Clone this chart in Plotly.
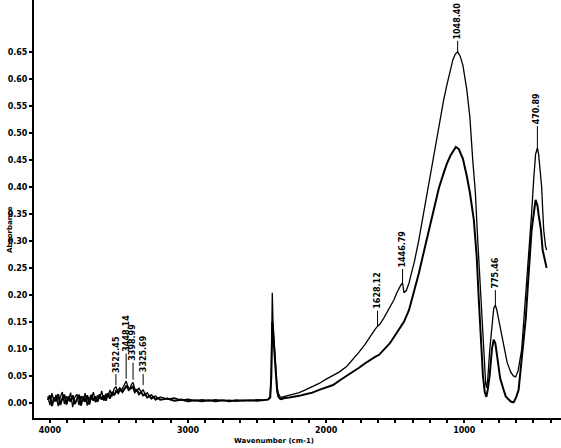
import plotly.graph_objects as go

# Upper spectrum (thin line)
upper_wn = [4015, 4000, 3985, 3970, 3955, 3940, 3925, 3910, 3895, 3880, 3865, 3850, 3835, 3820, 3805,
            3790, 3775, 3760, 3745, 3730, 3715, 3700, 3685, 3670, 3655, 3640, 3625, 3610, 3595, 3580,
            3565, 3550, 3535, 3522, 3510, 3495, 3480, 3465, 3448, 3435, 3420, 3410, 3398, 3385, 3370,
            3355, 3340, 3325, 3310, 3295, 3280, 3265, 3250, 3235, 3220, 3200, 3150, 3100, 3050, 3000,
            2950, 2900, 2850, 2800, 2750, 2700, 2650, 2600, 2550, 2500, 2450, 2420, 2405, 2397, 2390,
            2385, 2380, 2376, 2370, 2362, 2355, 2347, 2335, 2325, 2300, 2267, 2230, 2195, 2150, 2100,
            2051, 2000, 1950, 1906, 1850, 1800, 1762, 1720, 1680, 1646, 1628, 1610, 1581, 1560, 1540,
            1509, 1490, 1473, 1460, 1447, 1437, 1420, 1400, 1386, 1360, 1329, 1300, 1256, 1220, 1184,
            1150, 1126, 1100, 1083, 1065, 1048, 1030, 1010, 982, 960, 939, 920, 903, 890, 874,
            860, 852, 845, 838, 830, 816, 800, 787, 775, 765, 751, 730, 708, 690, 664,
            645, 628, 610, 585, 560, 534, 513, 498, 484, 471, 462, 455, 440, 433, 425, 412, 404]
upper_ab = [0.012, -0.004, 0.018, 0.002, 0.015, -0.006, 0.010, 0.020, -0.002, 0.012, 0.004, 0.019, -0.008, 0.010, 0.016,
            -0.004, 0.013, 0.003, 0.018, -0.005, 0.011, 0.006, 0.020, 0.001, 0.014, 0.008, 0.022, 0.004, 0.017, 0.010,
            0.024, 0.012, 0.026, 0.030, 0.022, 0.028, 0.024, 0.032, 0.040, 0.030, 0.026, 0.034, 0.038, 0.026, 0.022,
            0.027, 0.020, 0.024, 0.016, 0.019, 0.012, 0.015, 0.010, 0.013, 0.008, 0.011, 0.007, 0.009, 0.005, 0.007,
            0.004, 0.006, 0.004, 0.006, 0.004, 0.005, 0.003, 0.005, 0.004, 0.006, 0.005, 0.007, 0.012, 0.060, 0.204,
            0.150, 0.125, 0.117, 0.090, 0.055, 0.030, 0.018, 0.012, 0.010, 0.012, 0.014, 0.016, 0.019, 0.024, 0.030,
            0.036, 0.044, 0.051, 0.057, 0.068, 0.082, 0.094, 0.108, 0.124, 0.136, 0.142, 0.146, 0.158, 0.168, 0.178,
            0.191, 0.203, 0.212, 0.218, 0.222, 0.204, 0.208, 0.222, 0.237, 0.263, 0.302, 0.345, 0.404, 0.460, 0.515,
            0.560, 0.589, 0.617, 0.635, 0.646, 0.650, 0.642, 0.625, 0.580, 0.530, 0.450, 0.390, 0.302, 0.240, 0.172,
            0.110, 0.060, 0.035, 0.028, 0.045, 0.098, 0.150, 0.175, 0.181, 0.172, 0.154, 0.125, 0.098, 0.075, 0.057,
            0.050, 0.048, 0.060, 0.098, 0.180, 0.265, 0.350, 0.413, 0.460, 0.472, 0.460, 0.441, 0.400, 0.360, 0.320, 0.290, 0.283]

# Lower spectrum (thick line)
lower_wn = [4015, 4000, 3985, 3970, 3955, 3940, 3925, 3910, 3895, 3880, 3865, 3850, 3835, 3820, 3805,
            3790, 3775, 3760, 3745, 3730, 3715, 3700, 3685, 3670, 3655, 3640, 3625, 3610, 3595, 3580,
            3565, 3550, 3535, 3520, 3505, 3490, 3475, 3460, 3445, 3430, 3415, 3400, 3385, 3370, 3355,
            3340, 3325, 3310, 3295, 3280, 3265, 3250, 3235, 3220, 3200, 3150, 3100, 3050, 3000, 2950,
            2900, 2850, 2800, 2750, 2700, 2650, 2600, 2550, 2500, 2450, 2420, 2405, 2397, 2390, 2385,
            2380, 2376, 2370, 2362, 2355, 2347, 2335, 2325, 2300, 2267, 2230, 2195, 2150, 2100, 2051,
            2000, 1950, 1906, 1850, 1800, 1762, 1720, 1680, 1646, 1617, 1581, 1540, 1509, 1473, 1437,
            1400, 1386, 1360, 1329, 1300, 1270, 1240, 1210, 1184, 1150, 1126, 1100, 1083, 1061, 1040, 1010,
            982, 960, 931, 910, 895, 880, 865, 852, 840, 830, 816, 800, 787, 775, 758,
            740, 715, 700, 679, 660, 643, 625, 607, 585, 556, 534, 513, 484, 470, 462, 445, 433, 420, 412, 404]
lower_ab = [0.005, 0.014, -0.006, 0.010, 0.003, 0.016, -0.004, 0.008, 0.015, -0.003, 0.012, 0.002, 0.014, -0.002, 0.006,
            0.015, -0.005, 0.012, 0.002, 0.014, -0.003, 0.015, 0.004, 0.012, 0.002, 0.016, 0.006, 0.014, 0.004, 0.018,
            0.008, 0.020, 0.014, 0.022, 0.018, 0.025, 0.020, 0.027, 0.032, 0.024, 0.028, 0.030, 0.020, 0.024, 0.016,
            0.020, 0.014, 0.016, 0.010, 0.013, 0.008, 0.011, 0.006, 0.009, 0.006, 0.008, 0.004, 0.006, 0.003, 0.005,
            0.003, 0.005, 0.003, 0.005, 0.003, 0.005, 0.004, 0.005, 0.004, 0.006, 0.006, 0.010, 0.050, 0.150, 0.130,
            0.115, 0.105, 0.080, 0.045, 0.022, 0.012, 0.008, 0.007, 0.009, 0.010, 0.011, 0.013, 0.016, 0.019, 0.024,
            0.028, 0.033, 0.041, 0.050, 0.058, 0.065, 0.073, 0.080, 0.085, 0.089, 0.098, 0.110, 0.122, 0.135, 0.150,
            0.172, 0.185, 0.210, 0.240, 0.272, 0.305, 0.340, 0.372, 0.398, 0.425, 0.443, 0.458, 0.466, 0.474, 0.470, 0.452,
            0.420, 0.390, 0.339, 0.270, 0.191, 0.110, 0.050, 0.020, 0.011, 0.025, 0.052, 0.100, 0.117, 0.110, 0.080,
            0.045, 0.024, 0.012, 0.006, 0.002, 0.001, 0.010, 0.024, 0.080, 0.154, 0.240, 0.320, 0.376, 0.365, 0.348, 0.320, 0.283, 0.265, 0.256, 0.250]

# Peak labels: text, wavenumber, absorbance at line end, line length (px)
peak_text = ["3522.45", "3448.14", "3398.99", "3325.69", "1628.12", "1446.79", "1048.40", "775.46", "470.89"]
peak_wn = [3522, 3448, 3398, 3325, 1628, 1447, 1048, 775, 471]
peak_ab = [0.033, 0.045, 0.043, 0.033, 0.142, 0.222, 0.650, 0.181, 0.472]
peak_len = [12, 26, 18, 12, 16, 15, 12, 13, 20]

y_ticks = [0.00, 0.05, 0.10, 0.15, 0.20, 0.25, 0.30, 0.35, 0.40, 0.45, 0.50, 0.55, 0.60, 0.65]
y_tick_text = ["0.00", "0.05", "0.10", "0.15", "0.20", "0.25", "0.30", "0.35", "0.40", "0.45", "0.50", "0.55", "0.60", "0.65"]
x_ticks = [4000, 3000, 2000, 1000]
x_tick_text = ["4000", "3000", "2000", "1000"]

fig = go.Figure()
fig.add_trace(go.Scatter(x=upper_wn, y=upper_ab, mode="lines",
                         line=dict(color="black", width=1.3), showlegend=False))
fig.add_trace(go.Scatter(x=lower_wn, y=lower_ab, mode="lines",
                         line=dict(color="black", width=2.0), showlegend=False))

font = dict(family="DejaVu Sans", size=8, color="black", weight="bold")
font_small = dict(family="DejaVu Sans", size=7, color="black", weight="bold")

for t, xw, ya, L in zip(peak_text, peak_wn, peak_ab, peak_len):
    fig.add_annotation(x=xw, y=ya, xref="x", yref="y", text=t, textangle=-90,
                       showarrow=True, arrowhead=0, arrowwidth=1, arrowcolor="black",
                       ax=0, ay=-(L + 19), font=font)

fig.add_annotation(text="Absorbance", xref="paper", yref="paper", x=0, y=0.45,
                   xshift=-30, textangle=-90, showarrow=False, font=font_small)
fig.add_annotation(text="Wavenumber (cm-1)", xref="paper", yref="paper", x=0.455, y=0,
                   yshift=-29, yanchor="bottom", showarrow=False, font=font_small)

fig.update_layout(
    width=561, height=448,
    margin=dict(l=34, r=0, t=0, b=30),
    paper_bgcolor="white", plot_bgcolor="white",
    xaxis=dict(range=[4115, 300], tickvals=x_ticks, ticktext=x_tick_text, automargin=False,
               ticks="outside", ticklen=3, tickwidth=1.5, tickcolor="black",
               showline=True, linecolor="black", linewidth=2, showgrid=False, zeroline=False,
               tickfont=font,
               minor=dict(dtick=125, tick0=0, ticks="outside", ticklen=3, tickcolor="black", showgrid=False)),
    yaxis=dict(range=[-0.028, 0.746], tickvals=y_ticks, ticktext=y_tick_text, automargin=False,
               ticks="outside", ticklen=3, tickwidth=1.5, tickcolor="black",
               showline=True, linecolor="black", linewidth=2, showgrid=False, zeroline=False,
               tickfont=font),
)

fig.write_html("out.html", config={"displayModeBar": False},
               post_script="document.body.style.margin='0';document.body.style.overflow='hidden';")
